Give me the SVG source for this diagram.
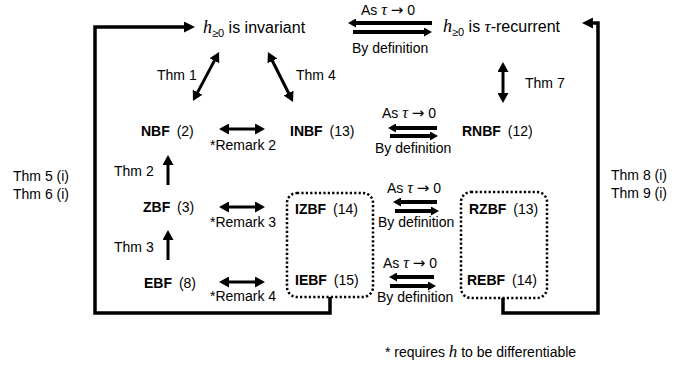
<svg xmlns="http://www.w3.org/2000/svg" width="689" height="369" viewBox="0 0 689 369">
  <style>
    .t { font-family: "Liberation Sans", Arial, sans-serif; font-size: 14px; fill: #000; }
    .big { font-size: 16px; }
    .b { font-weight: bold; }
    .m { font-family: "Liberation Serif", "Times New Roman", serif; font-style: italic; }
    .arr { font-family: "DejaVu Sans", sans-serif; font-size: 15px; }
    .thin { fill: none; stroke: #000; stroke-width: 3; }
    .eq { fill: none; stroke: #000; stroke-width: 4; }
    .bracket { fill: none; stroke: #000; stroke-width: 3.5; stroke-linejoin: miter; }
    .group { fill: none; stroke: #000; stroke-width: 2.5; stroke-dasharray: 2.2 2.2; }
  </style>
  <defs>
    <marker id="ah" viewBox="0 0 10 11" markerWidth="10" markerHeight="11" refX="5" refY="5.5" markerUnits="userSpaceOnUse" orient="auto-start-reverse">
      <path d="M0,0 L10,5.5 L0,11 z" fill="#000"/>
    </marker>
    <marker id="eh" viewBox="0 0 8 9" markerWidth="8" markerHeight="9" refX="4" refY="4.5" markerUnits="userSpaceOnUse" orient="auto">
      <path d="M0,0 L8,4.5 L0,9 z" fill="#000"/>
    </marker>
    <marker id="bh" viewBox="0 0 11 11" markerWidth="11" markerHeight="11" refX="5" refY="5.5" markerUnits="userSpaceOnUse" orient="auto">
      <path d="M0,0 L11,5.5 L0,11 z" fill="#000"/>
    </marker>
  </defs>

  <!-- top statements -->
  <g id="invariant">
    <text class="t big" x="203" y="33"><tspan class="m" font-size="18">h</tspan><tspan font-size="11" dy="4">≥0</tspan><tspan dy="-4"> is invariant</tspan></text>
  </g>
  <g id="recurrent">
    <text class="t big" x="443" y="32"><tspan class="m" font-size="18">h</tspan><tspan font-size="11" dy="4">≥0</tspan><tspan dy="-4"> is </tspan><tspan class="m" font-size="17">τ</tspan><tspan>-recurrent</tspan></text>
  </g>

  <!-- left column -->
  <g id="NBF"><text class="t" x="141" y="136"><tspan class="b">NBF</tspan> <tspan dx="3">(2)</tspan></text></g>
  <g id="ZBF"><text class="t" x="143" y="212"><tspan class="b">ZBF</tspan> <tspan dx="3">(3)</tspan></text></g>
  <g id="EBF"><text class="t" x="144" y="288"><tspan class="b">EBF</tspan> <tspan dx="3">(8)</tspan></text></g>

  <!-- middle column -->
  <g id="INBF"><text class="t" x="290" y="136"><tspan class="b">INBF</tspan> <tspan dx="3">(13)</tspan></text></g>
  <g id="IZBF"><text class="t" x="295" y="214"><tspan class="b">IZBF</tspan> <tspan dx="3">(14)</tspan></text></g>
  <g id="IEBF"><text class="t" x="295" y="285"><tspan class="b">IEBF</tspan> <tspan dx="3">(15)</tspan></text></g>

  <!-- right column -->
  <g id="RNBF"><text class="t" x="462" y="136"><tspan class="b">RNBF</tspan> <tspan dx="3">(12)</tspan></text></g>
  <g id="RZBF"><text class="t" x="469" y="214"><tspan class="b">RZBF</tspan> <tspan dx="3">(13)</tspan></text></g>
  <g id="REBF"><text class="t" x="467" y="285"><tspan class="b">REBF</tspan> <tspan dx="3">(14)</tspan></text></g>

  <!-- dotted groupings -->
  <g id="interior-group"><rect class="group" x="287" y="193" width="86" height="104" rx="10"/></g>
  <g id="recurrent-group"><rect class="group" x="461" y="192" width="86" height="106" rx="10"/></g>

  <g id="connectors">
    <!-- outer brackets -->
    <path class="bracket" d="M330,297 V313 H95 V27 H189" marker-end="url(#bh)"/>
    <path class="bracket" d="M503,298 V313 H598 V23 H588" marker-end="url(#bh)"/>

    <!-- theorem arrows -->
    <line class="thin" x1="195.3" y1="96.6" x2="216.7" y2="56.4" marker-start="url(#ah)" marker-end="url(#ah)"/>
    <line class="thin" x1="270.2" y1="56.5" x2="290.8" y2="97.5" marker-start="url(#ah)" marker-end="url(#ah)"/>
    <line class="thin" x1="503" y1="67" x2="503" y2="98" marker-start="url(#ah)" marker-end="url(#ah)"/>
    <line class="thin" x1="168" y1="185" x2="168" y2="160" marker-end="url(#ah)"/>
    <line class="thin" x1="168" y1="260" x2="168" y2="235" marker-end="url(#ah)"/>

    <!-- remark arrows -->
    <line class="thin" x1="224" y1="129" x2="260" y2="129" marker-start="url(#ah)" marker-end="url(#ah)"/>
    <line class="thin" x1="224" y1="207" x2="260" y2="207" marker-start="url(#ah)" marker-end="url(#ah)"/>
    <line class="thin" x1="224" y1="282" x2="260" y2="282" marker-start="url(#ah)" marker-end="url(#ah)"/>

    <!-- limit / definition arrow pairs -->
    <line class="eq" x1="432" y1="23" x2="352" y2="23" marker-end="url(#eh)"/>
    <line class="eq" x1="353" y1="32" x2="428" y2="32" marker-end="url(#eh)"/>
    <line class="eq" x1="437" y1="128" x2="392" y2="128" marker-end="url(#eh)"/>
    <line class="eq" x1="390" y1="136" x2="434" y2="136" marker-end="url(#eh)"/>
    <line class="eq" x1="437" y1="202" x2="397" y2="202" marker-end="url(#eh)"/>
    <line class="eq" x1="395" y1="211" x2="435" y2="211" marker-end="url(#eh)"/>
    <line class="eq" x1="434" y1="277" x2="393" y2="277" marker-end="url(#eh)"/>
    <line class="eq" x1="390" y1="286" x2="432" y2="286" marker-end="url(#eh)"/>
  </g>

  <g id="labels">
    <text class="t" x="157" y="80">Thm 1</text>
    <text class="t" x="296" y="80">Thm 4</text>
    <text class="t" x="525" y="88">Thm 7</text>
    <text class="t" x="114" y="176">Thm 2</text>
    <text class="t" x="114" y="252">Thm 3</text>
    <text class="t" x="210" y="150">*Remark 2</text>
    <text class="t" x="210" y="227">*Remark 3</text>
    <text class="t" x="210" y="301">*Remark 4</text>
    <text class="t" x="13" y="181">Thm 5 (i)</text>
    <text class="t" x="13" y="199">Thm 6 (i)</text>
    <text class="t" x="611" y="180">Thm 8 (i)</text>
    <text class="t" x="611" y="198">Thm 9 (i)</text>

    <text class="t" x="361" y="15">As <tspan class="m" font-size="16">τ</tspan> <tspan class="arr">→</tspan> 0</text>
    <text class="t" x="352" y="53">By definition</text>
    <text class="t" x="382" y="118">As <tspan class="m" font-size="16">τ</tspan> <tspan class="arr">→</tspan> 0</text>
    <text class="t" x="375" y="153">By definition</text>
    <text class="t" x="387" y="193">As <tspan class="m" font-size="16">τ</tspan> <tspan class="arr">→</tspan> 0</text>
    <text class="t" x="378" y="227">By definition</text>
    <text class="t" x="383" y="268">As <tspan class="m" font-size="16">τ</tspan> <tspan class="arr">→</tspan> 0</text>
    <text class="t" x="377" y="302">By definition</text>

    <text class="t" x="385" y="357">* requires <tspan class="m" font-size="17">h</tspan> to be differentiable</text>
  </g>
</svg>
